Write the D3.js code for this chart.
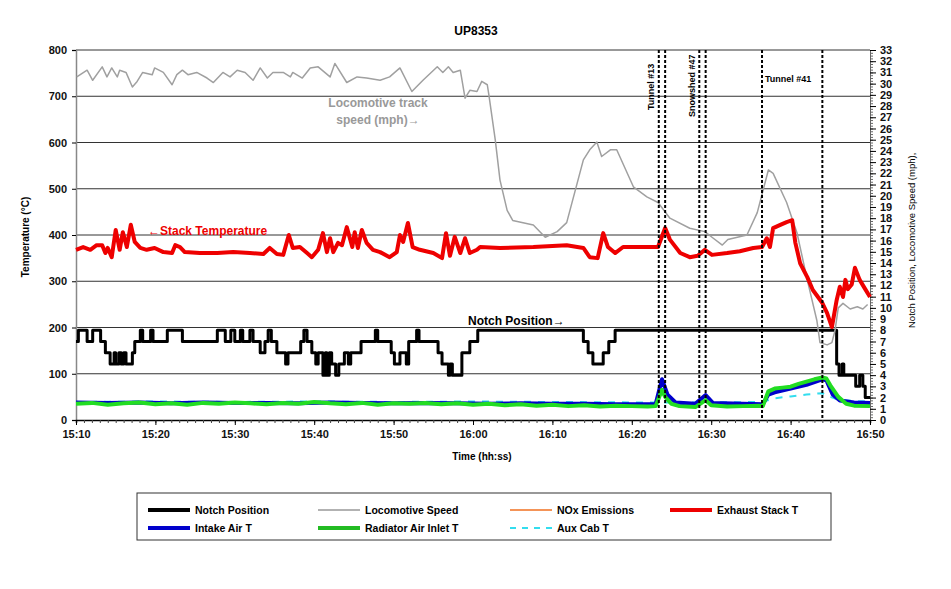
<!DOCTYPE html>
<html>
<head>
<meta charset="utf-8">
<script src="https://cdn.jsdelivr.net/npm/d3@7"></script>
<style>
  body { margin: 0; background: #fff; }
  svg { display: block; font-family: Arial, "Liberation Sans", sans-serif; }
</style>
</head>
<body>
<svg id="chart"></svg>
<script>
// time values are minutes after 15:10
const speedTime = [0.1,1.4,2.1,3.3,3.9,4.5,5.2,5.5,6.3,7.1,7.7,8.4,9.6,9.9,11.0,12.1,12.7,13.4,14.1,15.2,16.5,17.3,18.5,19.4,20.3,21.3,22.3,23.2,24.1,24.8,26.1,27.0,27.3,28.5,29.5,30.5,32.0,32.6,34.1,35.4,36.6,38.3,39.5,40.8,42.3,43.7,45.5,46.2,46.9,47.5,48.4,49.0,49.6,50.5,51.1,51.8,52.0,52.8,53.4,54.3,55.0,57.6,59.1,60.6,61.8,63.9,64.7,65.6,66.2,67.3,68.1,70.2,71.9,73.3,74.8,77.3,79.2,80.1,81.4,82.1,84.5,85.8,87.2,87.8,89.5,90.8,92.1,93.3,93.7,94.6,95.2,95.6,96.0,96.6,97.5,98.4,99.1,99.7];
const speedMph = [30.6,31.2,30.3,31.5,30.6,31.4,30.6,31.2,31.0,29.7,30.2,31.0,30.8,31.4,31.0,29.9,30.8,31.2,30.8,31.0,30.5,30.1,31.0,30.6,31.2,31.0,30.3,31.4,30.5,31.0,31.0,30.6,31.0,30.5,31.4,31.5,30.6,31.8,30.1,30.6,30.5,30.3,30.6,31.4,29.3,30.3,31.5,31.0,31.5,31.0,31.2,28.7,29.4,29.3,30.2,29.9,29.0,25.0,21.4,18.7,17.8,17.4,16.3,16.8,17.6,23.2,24.1,24.8,23.5,24.1,24.1,20.8,19.9,19.4,18.0,17.1,16.8,16.3,15.6,16.1,16.5,18.5,22.3,22.0,19.4,16.7,12.5,8.9,6.9,6.7,6.9,8.0,10.0,10.4,9.9,10.1,9.9,10.3];

const stackTime = [0,0.9,1.8,2.6,3.3,3.7,4.0,4.5,5.0,5.5,5.9,6.4,6.9,7.4,8.1,8.9,9.9,11.0,12.1,12.5,13.1,13.7,15.6,17.8,19.8,21.9,23.6,24.4,25.3,26.1,26.8,27.3,28.2,29.1,29.7,30.5,31.1,31.6,32.0,32.4,33.0,33.5,34.1,34.8,35.1,35.5,36.0,36.6,37.4,38.3,39.5,40.4,40.8,41.2,41.8,42.4,43.3,45.0,46.1,46.6,47.1,47.7,48.4,49.0,49.6,50.5,50.9,53.4,57.6,61.8,63.9,64.7,65.7,66.4,67.0,67.9,68.9,71.0,73.3,74.2,74.8,76.1,77.3,78.3,79.2,80.1,82.0,83.6,85.3,86.4,87.0,87.4,87.8,88.7,89.5,90.2,90.6,91.2,92.1,92.8,94.0,94.6,95.2,95.8,96.2,96.6,96.9,97.2,97.7,98.1,98.7,99.4,100];
const stackTemp = [368,374,368,378,378,361,372,352,411,368,406,374,422,385,372,368,372,363,361,378,374,363,361,361,363,361,359,372,359,357,400,372,374,361,352,368,404,363,393,363,383,378,417,374,406,372,411,383,368,363,352,363,400,385,426,374,368,361,350,404,355,396,361,393,361,368,374,372,374,378,372,352,350,404,374,361,374,374,374,415,390,361,352,355,368,357,361,365,372,374,393,374,415,422,428,432,383,339,309,281,253,231,201,259,288,266,303,283,293,329,303,283,266];

// notch steps (value holds until next time)
const notchTime = [0,0.3,1.4,2.1,3.1,3.7,4.3,4.8,5.0,5.4,5.7,6.0,6.3,7.1,7.4,8.1,8.4,9.4,9.7,11.5,13.4,17.8,18.8,19.5,20.0,20.7,21.0,21.9,22.3,23.2,23.8,24.2,24.6,25.3,26.4,26.7,28.3,28.7,29.1,29.7,30.2,30.5,31.1,31.4,31.6,31.9,32.2,32.7,33.1,33.8,34.3,34.6,35.9,37.7,38.0,39.7,40.1,40.8,41.6,41.9,42.9,43.2,45.6,46.1,46.9,47.1,47.4,48.6,49.6,50.6,63.9,64.5,65.1,66.4,67.1,67.9,95.8,96.1,96.5,96.7,98.2,98.7,99.1,99.4,100];
const notchValue = [7,8,7,8,7,6,5,6,5,6,5,6,5,6,7,8,7,8,7,8,7,8,7,8,7,8,7,8,7,6,7,8,7,6,5,6,7,8,7,6,5,6,4,6,4,6,5,4,5,6,5,6,7,8,7,6,5,6,5,7,8,7,6,5,4,5,4,6,7,8,7,6,5,6,7,8,5,4,5,4,3,4,3,2,2];

const radTime = [0,2,4,6,8,10,12,14,16,18,20,22,24,26,28,30,32,34,36,38,40,42,44,46,48,50,52,54,56,58,60,62,64,66,68,70,72,73,73.8,74.2,75,76,78,79.3,80,82,84,86,86.5,87.2,88,89,90,91,92,93,94,94.5,95,96,97,98,100];
const radTemp = [35,37,33,36,38,34,36,33,37,35,38,36,34,37,35,39,36,34,37,33,36,35,37,34,36,33,35,32,34,31,33,30,32,29,31,30,29,30,65,50,35,30,28,43,32,29,30,31,30,62,68,70,72,78,83,88,92,90,75,50,35,31,30];

const intakeTime = [0,4,8,12,16,20,24,28,32,36,40,44,48,52,56,60,64,68,72,73,73.8,74.5,75.5,78,79.3,80.2,86.5,87.2,88,90,92,93,94,94.5,95.3,96.2,98,100];
const intakeTemp = [38,37,38,36,38,37,37,36,38,37,36,37,36,35,36,35,35,34,34,34,88,55,38,35,54,37,34,55,60,68,76,82,88,86,55,42,38,37];

const cabTime = [0,10,20,30,40,50,60,70,80,86,87,88,90,92,94,95,96,98,100];
const cabTemp = [39,40,39,40,39,40,39,38,38,39,42,47,51,55,58,50,44,41,40];

const eventTimes = [73.4, 74.2, 78.5, 79.3, 86.4, 94.0];

const tempTicks = d3.range(0, 801, 100);
const speedTicks = d3.range(0, 34, 1);
const timeTicks = d3.range(0, 101, 10);

const legendItems = [
  {name: 'Notch Position', color: '#000', width: 4, dash: null},
  {name: 'Locomotive Speed', color: '#999', width: 1.5, dash: null},
  {name: 'NOx Emissions', color: '#f07020', width: 1.5, dash: null},
  {name: 'Exhaust Stack T', color: '#ee0000', width: 4, dash: null},
  {name: 'Intake Air T', color: '#0000cc', width: 4, dash: null},
  {name: 'Radiator Air Inlet T', color: '#22bb22', width: 4, dash: null},
  {name: 'Aux Cab T', color: '#33ddee', width: 2, dash: '6,6'}
];

const W = 951, H = 589;
const margin = {top: 50, right: 81, bottom: 169, left: 76};

const svg = d3.select('#chart').attr('width', W).attr('height', H);

const x = d3.scaleLinear().domain([0, 100]).range([margin.left, W - margin.right]);
const yT = d3.scaleLinear().domain([0, 800]).range([H - margin.bottom, margin.top]);
const yS = d3.scaleLinear().domain([0, 33]).range([H - margin.bottom, margin.top]);

function timeLabel(m) {
  const t = 15 * 60 + 10 + m;
  return Math.floor(t / 60) + ':' + String(t % 60).padStart(2, '0');
}

// gridlines
svg.append('g')
  .selectAll('line')
  .data(tempTicks.filter(d => d > 0))
  .join('line')
  .attr('x1', x(0)).attr('x2', x(100))
  .attr('y1', d => yT(d)).attr('y2', d => yT(d))
  .attr('stroke', '#333').attr('stroke-width', 1);

// left axis
const leftAxis = svg.append('g')
  .attr('transform', `translate(${x(0)},0)`)
  .call(d3.axisLeft(yT).tickValues(tempTicks).tickSize(4).tickPadding(5));
leftAxis.select('.domain').attr('stroke', '#888').attr('stroke-width', 1.5);
leftAxis.selectAll('text').style('font-size', '11px').style('font-weight', 'bold').attr('fill', '#111');

// right axis: minor then major ticks
svg.append('g')
  .attr('transform', `translate(${x(100)},0)`)
  .call(d3.axisRight(yS).tickValues(d3.range(0, 33.01, 0.25)).tickSize(3).tickFormat(''))
  .call(g => g.select('.domain').attr('stroke', '#666'))
  .selectAll('line').attr('stroke', '#666');
const rightAxis = svg.append('g')
  .attr('transform', `translate(${x(100)},0)`)
  .call(d3.axisRight(yS).tickValues(speedTicks).tickSize(6).tickPadding(4));
rightAxis.select('.domain').remove();
rightAxis.selectAll('text').style('font-size', '11px').style('font-weight', 'bold').attr('fill', '#111');

// bottom axis
svg.append('g')
  .attr('transform', `translate(0,${yT(0)})`)
  .call(d3.axisBottom(x).tickValues(d3.range(0, 101, 1)).tickSize(3).tickFormat(''))
  .call(g => g.select('.domain').attr('stroke', '#000').attr('stroke-width', 1.5))
  .selectAll('line').attr('stroke', '#444');
const bottomAxis = svg.append('g')
  .attr('transform', `translate(0,${yT(0)})`)
  .call(d3.axisBottom(x).tickValues(timeTicks).tickSize(5).tickPadding(5).tickFormat(timeLabel));
bottomAxis.select('.domain').remove();
bottomAxis.selectAll('text').style('font-size', '11px').style('font-weight', 'bold').attr('fill', '#111');

function drawLine(times, vals, yScale, color, width, dash, curve) {
  const line = d3.line()
    .x((d, i) => x(times[i]))
    .y(d => yScale(d))
    .curve(curve || d3.curveLinear);
  svg.append('path')
    .datum(vals)
    .attr('d', line)
    .attr('fill', 'none')
    .attr('stroke', color)
    .attr('stroke-width', width)
    .attr('stroke-linejoin', 'round')
    .attr('stroke-dasharray', dash);
}

drawLine(cabTime, cabTemp, yT, '#33ddee', 2, '7,7');
drawLine(intakeTime, intakeTemp, yT, '#0000cc', 4);
drawLine(radTime, radTemp, yT, '#22dd22', 4);
drawLine(notchTime, notchValue, yS, '#000', 3, null, d3.curveStepAfter);
drawLine(speedTime, speedMph, yS, '#a0a0a0', 1.5);
drawLine(stackTime, stackTemp, yT, '#ee0000', 4);

// event lines
svg.append('g')
  .selectAll('line')
  .data(eventTimes)
  .join('line')
  .attr('x1', d => x(d)).attr('x2', d => x(d))
  .attr('y1', yT(800)).attr('y2', yT(0))
  .attr('stroke', '#000').attr('stroke-width', 2)
  .attr('stroke-dasharray', '3,2');

// annotations
svg.append('text')
  .attr('transform', `translate(${x(eventTimes[0]) - 5},110) rotate(-90)`)
  .style('font-size', '9px').style('font-weight', 'bold')
  .text('Tunnel #13');
svg.append('text')
  .attr('transform', `translate(${x(eventTimes[2]) - 4},117) rotate(-90)`)
  .style('font-size', '9px').style('font-weight', 'bold')
  .text('Snowshed #47');
svg.append('text')
  .attr('x', x(eventTimes[4]) + 3).attr('y', 82)
  .style('font-size', '9px').style('font-weight', 'bold')
  .text('Tunnel #41');

svg.append('text')
  .attr('x', 378).attr('y', 107)
  .attr('text-anchor', 'middle')
  .attr('fill', '#999')
  .style('font-size', '12px').style('font-weight', 'bold')
  .text('Locomotive track');
svg.append('text')
  .attr('x', 378).attr('y', 124)
  .attr('text-anchor', 'middle')
  .attr('fill', '#999')
  .style('font-size', '12px').style('font-weight', 'bold')
  .text('speed (mph)\u2192');
svg.append('text')
  .attr('x', 148).attr('y', 235)
  .attr('fill', '#ee0000')
  .style('font-size', '12px').style('font-weight', 'bold')
  .text('\u2190Stack Temperature');
svg.append('text')
  .attr('x', 468).attr('y', 325)
  .attr('fill', '#000')
  .style('font-size', '12px').style('font-weight', 'bold')
  .text('Notch Position\u2192');

// titles
svg.append('text')
  .attr('x', 476).attr('y', 35)
  .attr('text-anchor', 'middle')
  .style('font-size', '12px').style('font-weight', 'bold')
  .text('UP8353');
svg.append('text')
  .attr('x', 482).attr('y', 460)
  .attr('text-anchor', 'middle')
  .style('font-size', '10px').style('font-weight', 'bold')
  .text('Time (hh:ss)');
svg.append('text')
  .attr('transform', 'translate(29,237) rotate(-90)')
  .attr('text-anchor', 'middle')
  .style('font-size', '10px').style('font-weight', 'bold')
  .text('Temperature (\u00b0C)');
svg.append('text')
  .attr('transform', 'translate(915,328) rotate(-90)')
  .style('font-size', '9.5px')
  .text('Notch Position, Locomotive Speed (mph),');

// legend
const legend = svg.append('g');
legend.append('rect')
  .attr('x', 137).attr('y', 493).attr('width', 694).attr('height', 47)
  .attr('fill', '#fff').attr('stroke', '#333').attr('stroke-width', 1);
const colX = [148, 318, 510, 670];
const rowY = [510, 528];
legendItems.forEach((d, i) => {
  const cx = colX[i % 4], cy = rowY[Math.floor(i / 4)];
  legend.append('line')
    .attr('x1', cx).attr('x2', cx + 42).attr('y1', cy).attr('y2', cy)
    .attr('stroke', d.color).attr('stroke-width', d.width)
    .attr('stroke-dasharray', d.dash);
  legend.append('text')
    .attr('x', cx + 47).attr('y', cy + 4)
    .style('font-size', '10.5px').style('font-weight', 'bold')
    .text(d.name);
});
</script>
</body>
</html>
